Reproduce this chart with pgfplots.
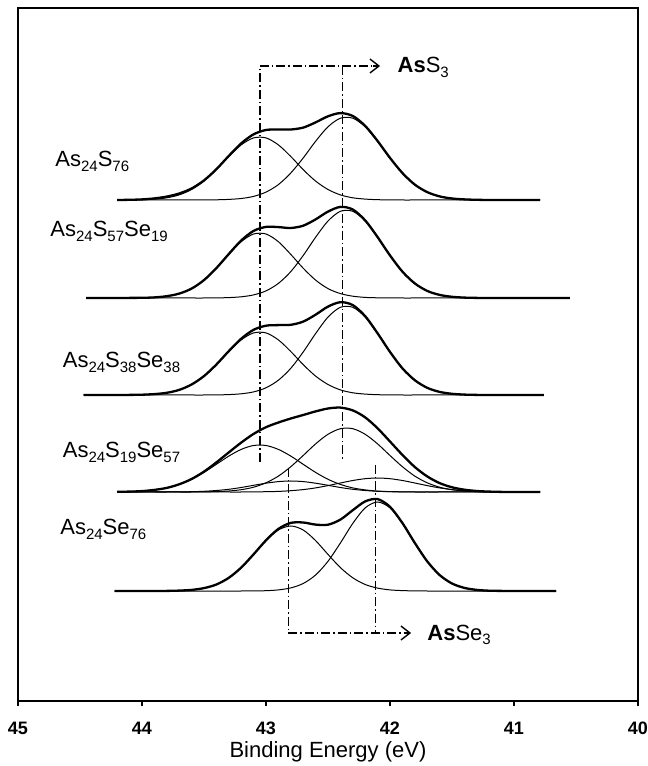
\documentclass[border=0pt]{standalone}
\usepackage{fontspec}
\setmainfont{Liberation Sans}
\usepackage{pgfplots}
\usepackage{pgfplotstable}
\pgfplotsset{compat=1.18}
\usetikzlibrary{arrows.meta}

\newcommand{\lab}{\fontsize{22}{26}\selectfont}
\newcommand{\sub}[1]{\raisebox{-4.5pt}{\fontsize{15}{15}\selectfont #1}}

% As24S76 : total, AsS3 (43.05 eV), second AsS3 (42.35 eV)
\pgfplotstableread{
x T A B
44.20 0 0 0
44.10 0.2 0.1 0
44.00 0.6 0.3 0
43.90 1.6 0.9 0
43.80 3.4 2.2 0
43.70 6.5 5.1 0
43.60 11.5 10.5 0
43.50 19.6 18.9 0.05
43.40 30.8 30.4 0.2
43.30 44.1 43.5 0.6
43.20 56.6 55.1 1.5
43.10 65.7 62.1 3.6
43.00 70.0 62.1 7.9
42.90 70.5 55.1 15.4
42.80 70.5 43.5 27.0
42.70 72.4 30.4 42.0
42.60 77.6 18.9 58.7
42.50 83.7 10.5 73.2
42.40 86.9 5.1 81.8
42.30 84.0 2.2 81.8
42.20 74.1 0.9 73.2
42.10 59.0 0.3 58.7
42.00 42.1 0.1 42.0
41.90 27.0 0 27.0
41.80 15.4 0 15.4
41.70 7.9 0 7.9
41.60 3.6 0 3.6
41.50 1.5 0 1.5
41.40 0.6 0 0.6
41.30 0.2 0 0.2
41.20 0 0 0.05
41.10 0 0 0
41.00 0 0 0
40.90 0 0 0
40.79 0 0 0
}\sa

% As24S57Se19
\pgfplotstableread{
x T A B
44.45 0 0 0
44.30 0 0 0
44.20 0 0 0
44.10 0.1 0.1 0
44.00 0.2 0.2 0
43.90 0.6 0.6 0
43.80 1.8 1.8 0
43.70 4.4 4.4 0
43.60 9.4 9.4 0
43.50 17.9 17.9 0
43.40 29.9 29.8 0.1
43.30 44.0 43.6 0.4
43.20 57.5 56.3 1.2
43.10 67.1 64.0 3.1
43.00 71.1 64.0 7.1
42.90 70.9 56.3 14.6
42.80 70.0 43.6 26.4
42.70 72.3 29.8 42.5
42.60 78.6 17.9 60.7
42.50 86.4 9.4 77.0
42.40 91.1 4.4 86.7
42.30 88.5 1.8 86.7
42.20 77.6 0.6 77.0
42.10 60.9 0.2 60.7
42.00 42.6 0.1 42.5
41.90 26.4 0 26.4
41.80 14.6 0 14.6
41.70 7.1 0 7.1
41.60 3.1 0 3.1
41.50 1.2 0 1.2
41.40 0.4 0 0.4
41.30 0.1 0 0.1
41.20 0 0 0
41.00 0 0 0
40.80 0 0 0
40.55 0 0 0
}\sb

% As24S38Se38
\pgfplotstableread{
x T A B
44.47 0 0 0
44.30 0 0 0
44.20 0 0 0
44.10 0.1 0.1 0
44.00 0.3 0.3 0
43.90 0.9 0.9 0
43.80 2.2 2.2 0
43.70 5.1 5.1 0
43.60 10.5 10.5 0
43.50 18.9 18.9 0
43.40 30.5 30.4 0.1
43.30 43.9 43.5 0.4
43.20 56.3 55.1 1.2
43.10 65.2 62.1 3.1
43.00 69.3 62.1 7.2
42.90 69.9 55.1 14.8
42.80 70.2 43.5 26.7
42.70 73.4 30.4 43.0
42.60 80.3 18.9 61.4
42.50 88.4 10.5 77.9
42.40 92.8 5.1 87.7
42.30 89.9 2.2 87.7
42.20 78.8 0.9 77.9
42.10 61.7 0.3 61.4
42.00 43.1 0.1 43.0
41.90 26.7 0 26.7
41.80 14.8 0 14.8
41.70 7.2 0 7.2
41.60 3.1 0 3.1
41.50 1.2 0 1.2
41.40 0.4 0 0.4
41.30 0.1 0 0.1
41.20 0 0 0
41.00 0 0 0
40.76 0 0 0
}\sc

% As24S19Se57 : AsS3 pair (A,B) and AsSe3 pair (C,D)
\pgfplotstableread{
x T A B C D
44.20 0.2 0.2 0 0 0
44.10 0.4 0.4 0 0 0
44.00 0.9 0.9 0 0 0
43.90 2.1 2.1 0 0 0
43.80 4.1 4.1 0 0 0
43.70 7.7 7.6 0 0.1 0
43.60 13.0 12.7 0 0.3 0
43.50 20.4 19.6 0.1 0.7 0
43.40 29.6 27.7 0.4 1.5 0
43.30 39.6 35.9 1.0 2.7 0
43.20 49.4 42.6 2.3 4.5 0
43.10 58.1 46.5 4.8 6.7 0.1
43.00 64.8 46.5 9.2 8.8 0.3
42.90 69.5 42.6 15.9 10.4 0.6
42.80 73.5 35.9 25.3 11.0 1.3
42.70 77.0 27.7 36.5 10.4 2.4
42.60 80.6 19.6 48.1 8.8 4.1
42.50 83.5 12.7 57.7 6.7 6.4
42.40 84.4 7.6 63.3 4.5 9.0
42.30 81.6 4.1 63.3 2.7 11.5
42.20 74.6 2.1 57.7 1.5 13.3
42.10 63.7 0.9 48.1 0.7 14.0
42.00 50.5 0.4 36.5 0.3 13.3
41.90 37.1 0.2 25.3 0.1 11.5
41.80 25.0 0.1 15.9 0 9.0
41.70 15.6 0 9.2 0 6.4
41.60 8.9 0 4.8 0 4.1
41.50 4.7 0 2.3 0 2.4
41.40 2.3 0 1.0 0 1.3
41.30 1.0 0 0.4 0 0.6
41.20 0.4 0 0.1 0 0.3
41.10 0.1 0 0 0 0.1
41.00 0 0 0 0 0
40.90 0 0 0 0 0
40.79 0 0 0 0 0
}\sd

% As24Se76 : AsSe3 (42.8 eV), second AsSe3 (42.1 eV)
\pgfplotstableread{
x T A B
44.22 0 0 0
44.10 0 0 0
44.00 0 0 0
43.90 0 0 0
43.80 0.1 0.1 0
43.70 0.4 0.4 0
43.60 1.1 1.1 0
43.50 2.9 2.9 0
43.40 6.5 6.5 0
43.30 13.2 13.2 0
43.20 23.4 23.4 0
43.10 36.7 36.6 0.1
43.00 50.7 50.4 0.3
42.90 62.1 61.0 1.1
42.80 68.1 65.0 3.1
42.70 68.5 61.0 7.5
42.60 66.4 50.4 16.0
42.50 66.3 36.6 29.7
42.40 71.4 23.4 48.0
42.30 80.8 13.2 67.6
42.20 89.6 6.5 83.1
42.10 91.9 2.9 89.0
42.00 84.2 1.1 83.1
41.90 68.0 0.4 67.6
41.80 48.1 0.1 48.0
41.70 29.7 0 29.7
41.60 16.0 0 16.0
41.50 7.5 0 7.5
41.40 3.1 0 3.1
41.30 1.1 0 1.1
41.20 0.3 0 0.3
41.10 0.1 0 0.1
41.00 0 0 0
40.80 0 0 0
40.66 0 0 0
}\se

\begin{document}
\begin{tikzpicture}
\useasboundingbox (-18pt,-65pt) rectangle (630pt,701pt);
\begin{axis}[
    at={(0,0)}, anchor=south west,
    scale only axis, width=620pt, height=693pt,
    xmin=40, xmax=45, x dir=reverse,
    ymin=4, ymax=697,
    xtick={40,41,42,43,44,45}, ytick=\empty,
    xtick pos=bottom, tick align=outside, major tick length=5pt,
    axis line style={line width=1.7pt},
    tick style={line width=1.3pt, black},
    /pgf/number format/assume math mode=true,
    xticklabel style={font=\fontsize{18}{20}\selectfont\bfseries, anchor=base, inner sep=0pt, yshift=-28pt},
    xlabel={Binding Energy (eV)},
    xlabel style={font=\fontsize{22}{26}\selectfont, at={(axis description cs:0.5,0)}, anchor=base, inner sep=0pt, yshift=-56pt},
    total/.style={black, line width=2.3pt, smooth, no markers},
    comp/.style={black, line width=1pt, smooth, no markers},
]
% As24S76
\addplot[comp] table[x=x, y expr=\thisrow{A}+505] {\sa};
\addplot[comp] table[x=x, y expr=\thisrow{B}+505] {\sa};
\addplot[total] table[x=x, y expr=\thisrow{T}+505] {\sa};
% As24S57Se19
\addplot[comp] table[x=x, y expr=\thisrow{A}+407] {\sb};
\addplot[comp] table[x=x, y expr=\thisrow{B}+407] {\sb};
\addplot[total] table[x=x, y expr=\thisrow{T}+407] {\sb};
% As24S38Se38
\addplot[comp] table[x=x, y expr=\thisrow{A}+310] {\sc};
\addplot[comp] table[x=x, y expr=\thisrow{B}+310] {\sc};
\addplot[total] table[x=x, y expr=\thisrow{T}+310] {\sc};
% As24S19Se57
\addplot[comp] table[x=x, y expr=\thisrow{A}+213] {\sd};
\addplot[comp] table[x=x, y expr=\thisrow{B}+213] {\sd};
\addplot[comp] table[x=x, y expr=\thisrow{C}+213] {\sd};
\addplot[comp] table[x=x, y expr=\thisrow{D}+213] {\sd};
\addplot[total] table[x=x, y expr=\thisrow{T}+213] {\sd};
% As24Se76
\addplot[comp] table[x=x, y expr=\thisrow{A}+114] {\se};
\addplot[comp] table[x=x, y expr=\thisrow{B}+114] {\se};
\addplot[total] table[x=x, y expr=\thisrow{T}+114] {\se};

% AsS3 guide
\draw[line width=1.5pt, dash pattern=on 9pt off 3pt on 1.5pt off 3pt]
  (axis cs:43.05,243) -- (axis cs:43.05,639) -- (axis cs:42.12,639);
\draw[line width=1.4pt, -{Straight Barb[length=9pt,width=14pt]}]
  (axis cs:42.14,639) -- (axis cs:42.08,639);
\draw[line width=1.2pt, dash pattern=on 9pt off 3pt on 1.5pt off 3pt]
  (axis cs:42.38,639) -- (axis cs:42.38,245);
\node[anchor=base west, font=\lab, inner sep=0pt] at (axis cs:41.94,632) {\textbf{As}S\sub{3}};

% AsSe3 guide
\draw[line width=1.5pt, dash pattern=on 9pt off 3pt on 1.5pt off 3pt]
  (axis cs:42.82,237) -- (axis cs:42.82,72) -- (axis cs:41.87,72);
\draw[line width=1.4pt, -{Straight Barb[length=9pt,width=14pt]}]
  (axis cs:41.89,72) -- (axis cs:41.83,72);
\draw[line width=1.2pt, dash pattern=on 9pt off 3pt on 1.5pt off 3pt]
  (axis cs:42.12,240) -- (axis cs:42.12,72);
\node[anchor=base west, font=\lab, inner sep=0pt] at (axis cs:41.70,65) {\textbf{As}Se\sub{3}};

% sample labels
\node[anchor=base west, font=\lab, inner sep=0pt] at (axis cs:44.70,538) {As\sub{24}S\sub{76}};
\node[anchor=base west, font=\lab, inner sep=0pt] at (axis cs:44.74,468) {As\sub{24}S\sub{57}Se\sub{19}};
\node[anchor=base west, font=\lab, inner sep=0pt] at (axis cs:44.64,337) {As\sub{24}S\sub{38}Se\sub{38}};
\node[anchor=base west, font=\lab, inner sep=0pt] at (axis cs:44.64,247) {As\sub{24}S\sub{19}Se\sub{57}};
\node[anchor=base west, font=\lab, inner sep=0pt] at (axis cs:44.66,170) {As\sub{24}Se\sub{76}};
\end{axis}
\end{tikzpicture}
\end{document}
